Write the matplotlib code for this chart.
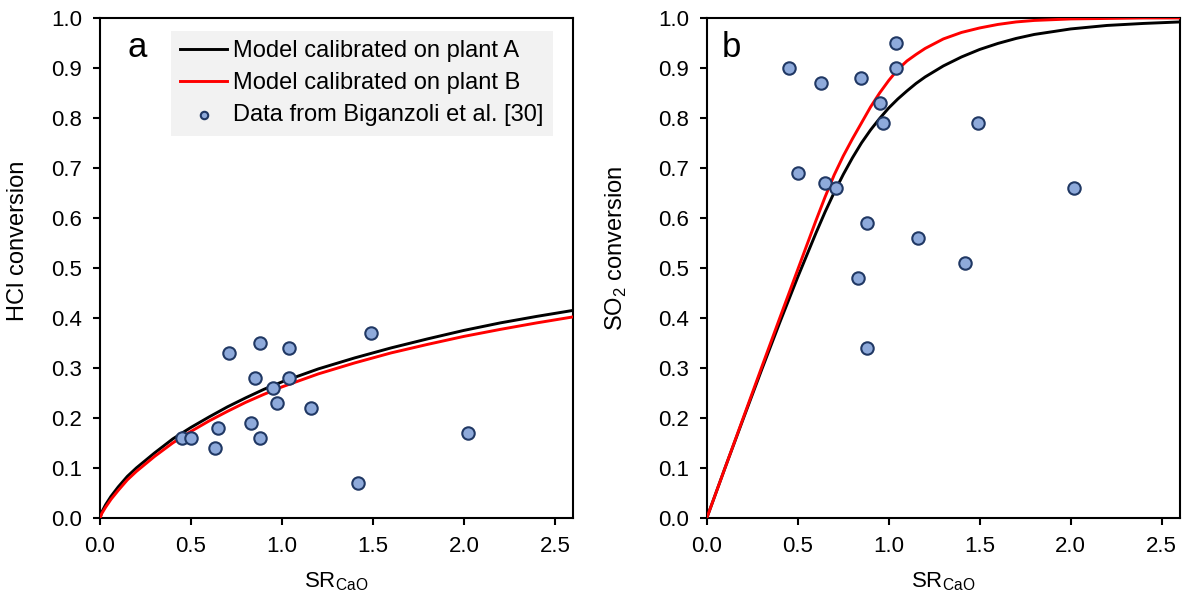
import matplotlib
matplotlib.use("Agg")
import matplotlib.pyplot as plt
from matplotlib.ticker import FormatStrFormatter

plt.rcParams['font.family'] = ['Liberation Sans', 'DejaVu Sans']
plt.rcParams['mathtext.fontset'] = 'custom'
plt.rcParams['mathtext.rm'] = 'Liberation Sans'

# measured points (shared SR values)
sr_data = [0.45, 0.50, 0.63, 0.65, 0.71, 0.83, 0.85, 0.88, 0.88,
           0.95, 0.97, 1.04, 1.04, 1.16, 1.42, 1.49, 2.02]
hcl_data = [0.16, 0.16, 0.14, 0.18, 0.33, 0.19, 0.28, 0.35, 0.16,
            0.26, 0.23, 0.34, 0.28, 0.22, 0.07, 0.37, 0.17]
so2_data = [0.90, 0.69, 0.87, 0.67, 0.66, 0.48, 0.88, 0.59, 0.34,
            0.83, 0.79, 0.95, 0.90, 0.56, 0.51, 0.79, 0.66]

# model curves, HCl
sr_hcl = [0, 0.01, 0.03, 0.06, 0.1, 0.15, 0.2, 0.3, 0.4, 0.5, 0.6, 0.7,
          0.8, 0.9, 1.0, 1.2, 1.4, 1.6, 1.8, 2.0, 2.2, 2.4, 2.6]
hcl_A = [0, 0.012, 0.026, 0.043, 0.062, 0.083, 0.100, 0.130, 0.158, 0.181,
         0.202, 0.222, 0.240, 0.257, 0.272, 0.298, 0.320, 0.340, 0.358,
         0.375, 0.390, 0.403, 0.415]
hcl_B = [0, 0.009, 0.021, 0.037, 0.055, 0.076, 0.093, 0.123, 0.150, 0.173,
         0.194, 0.213, 0.231, 0.247, 0.262, 0.288, 0.310, 0.330, 0.347,
         0.363, 0.377, 0.390, 0.402]

# model curves, SO2
sr_so2 = [0, 0.1, 0.2, 0.3, 0.4, 0.5, 0.55, 0.6, 0.65, 0.7, 0.75, 0.8,
          0.85, 0.9, 0.95, 1.0, 1.05, 1.1, 1.15, 1.2, 1.3, 1.4, 1.5, 1.6,
          1.7, 1.8, 2.0, 2.2, 2.4, 2.6]
so2_A = [0, 0.100, 0.198, 0.295, 0.390, 0.482, 0.526, 0.570, 0.612, 0.651,
         0.687, 0.720, 0.750, 0.776, 0.799, 0.820, 0.838, 0.854, 0.869,
         0.882, 0.904, 0.922, 0.937, 0.949, 0.959, 0.967, 0.978, 0.985,
         0.989, 0.992]
so2_B = [0, 0.100, 0.200, 0.300, 0.399, 0.497, 0.546, 0.595, 0.642, 0.686,
         0.724, 0.758, 0.790, 0.822, 0.850, 0.875, 0.897, 0.914, 0.927,
         0.939, 0.958, 0.971, 0.980, 0.987, 0.992, 0.995, 0.998, 0.999,
         1.0, 1.0]

fig = plt.figure(figsize=(11.84, 5.98), dpi=100)
ax1 = fig.add_axes([0.0845, 0.134, 0.3995, 0.836])
ax2 = fig.add_axes([0.597, 0.134, 0.3995, 0.836])

dot = dict(s=80, facecolor='#8eaadb', edgecolor='#203864', linewidth=1.5, zorder=4)

ax1.plot(sr_hcl, hcl_A, color='black', lw=2.1, label='Model calibrated on plant A', zorder=2)
ax1.plot(sr_hcl, hcl_B, color='red', lw=2.1, label='Model calibrated on plant B', zorder=3)
ax1.scatter(sr_data, hcl_data, label='Data from Biganzoli et al. [30]', **dot)

ax2.plot(sr_so2, so2_A, color='black', lw=2.1, zorder=2)
ax2.plot(sr_so2, so2_B, color='red', lw=2.1, zorder=3)
ax2.scatter(sr_data, so2_data, **dot)

for ax in (ax1, ax2):
    ax.set_xlim(0, 2.6)
    ax.set_ylim(0, 1.0)
    ax.set_xticks([0, 0.5, 1.0, 1.5, 2.0, 2.5])
    ax.set_yticks([i / 10 for i in range(11)])
    ax.xaxis.set_major_formatter(FormatStrFormatter('%.1f'))
    ax.yaxis.set_major_formatter(FormatStrFormatter('%.1f'))
    ax.tick_params(direction='out', length=5, width=1.5, labelsize=16,
                   pad=8, colors='black')
    for sp in ax.spines.values():
        sp.set_linewidth(1.5)
    ax.set_xlabel(r'SR$_{\mathrm{CaO}}$', fontsize=16, labelpad=10)

ax1.text(0.057, 0.922, 'a', transform=ax1.transAxes, fontsize=25, va='baseline')
ax2.text(0.032, 0.922, 'b', transform=ax2.transAxes, fontsize=25, va='baseline')

ax1.set_ylabel('HCl conversion', fontsize=17)
ax2.set_ylabel(r'SO$_2$ conversion', fontsize=17)
ax1.yaxis.set_label_coords(-0.15, 0.555)
ax2.yaxis.set_label_coords(-0.165, 0.54)

ax1.legend(loc='upper right', bbox_to_anchor=(0.958, 0.974), borderaxespad=0,
           fontsize=17, frameon=True, fancybox=False, facecolor='#f2f2f2',
           edgecolor='none', framealpha=1, handlelength=2.0, handletextpad=0.25,
           labelspacing=0.42, borderpad=0.4, scatterpoints=1, markerscale=0.6)

fig.savefig('out.png', dpi=100)
